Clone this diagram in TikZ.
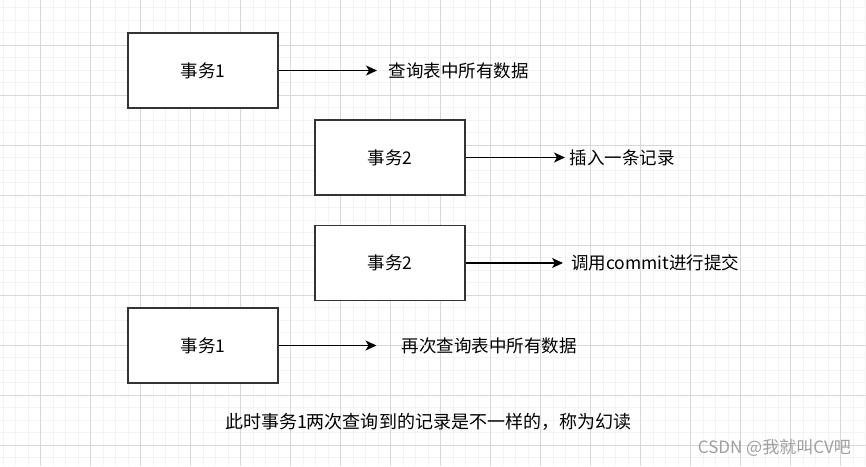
\documentclass[tikz,border=0pt]{standalone}
\usepackage{fontspec}
\setmainfont{Noto Sans CJK SC}
\usetikzlibrary{arrows.meta}
\definecolor{gridminor}{HTML}{F3F3F3}
\definecolor{gridmajor}{HTML}{D8D8D8}
\definecolor{boxline}{HTML}{333333}
\definecolor{markgray}{HTML}{A0A0A0}

\begin{document}
\begin{tikzpicture}[x=1pt, y=-1pt, >={Stealth[length=11pt,width=10pt,inset=3pt]},
    txbox/.style={draw=boxline, line width=1.3pt, fill=white, minimum width=150pt,
      minimum height=75pt, inner sep=0pt, font=\fontsize{17.5}{20}\selectfont},
    note/.style={anchor=west, inner sep=0pt, font=\fontsize{17.5}{20}\selectfont},
    flow/.style={->, line width=1.2pt, black}]
  \useasboundingbox[fill=white] (0,0) rectangle (866,466);
  % background grid
  \foreach \gx in {3,15.5,...,866} \draw[gridminor, line width=0.7pt] (\gx,0) -- (\gx,466);
  \foreach \gy in {7.5,20,...,466} \draw[gridminor, line width=0.7pt] (0,\gy) -- (866,\gy);
  \foreach \gx in {40.5,90.5,...,866} \draw[gridmajor, line width=0.8pt] (\gx,0) -- (\gx,466);
  \foreach \gy in {45,95,...,466} \draw[gridmajor, line width=0.8pt] (0,\gy) -- (866,\gy);

  \node[txbox] (tx1a) at (203,70.5) {事务1};
  \node[txbox] (tx2a) at (390,157.5) {事务2};
  \node[txbox] (tx2b) at (390,263) {事务2};
  \node[txbox] (tx1b) at (203,345.5) {事务1};

  \node[note] (qry1) at (388.5,71) {查询表中所有数据};
  \node[note] (ins) at (569.5,157.5) {插入一条记录};
  \node[note] (cmt) at (571,263) {调用commit进行提交};
  \node[note] (qry2) at (401.5,345.5) {再次查询表中所有数据};

  \draw[flow, shorten >=11.5pt] (tx1a.east) -- (tx1a.east -| qry1.west);
  \draw[flow, shorten >=4.5pt] (tx2a.east) -- (tx2a.east -| ins.west);
  \draw[flow, shorten >=8pt] (tx2b.east) -- (tx2b.east -| cmt.west);
  \draw[flow, shorten >=25pt] (tx1b.east) -- (tx1b.east -| qry2.west);

  \node[font=\fontsize{18}{20}\selectfont, inner sep=0pt] (summary) at (428,422)
    {此时事务1两次查询到的记录是不一样的，称为幻读};
  \node[anchor=east, text=markgray, inner sep=0pt, font=\fontsize{17}{20}\selectfont] (mark) at (851,448)
    {CSDN @我就叫CV吧};
\end{tikzpicture}
\end{document}
